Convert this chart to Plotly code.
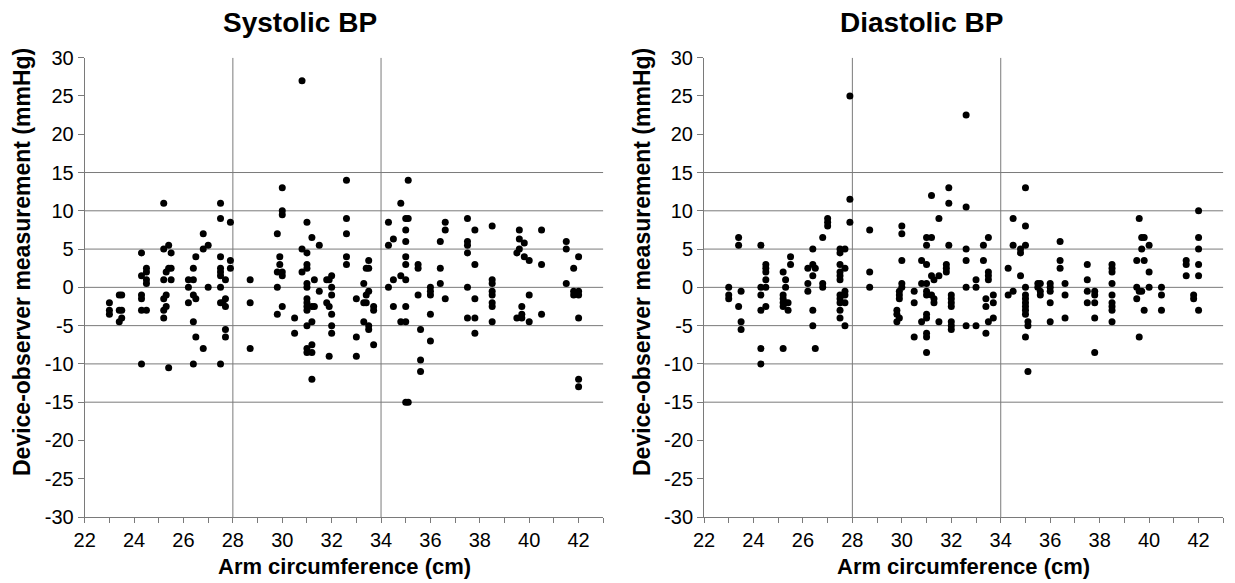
import plotly.graph_objects as go

# ---------------- data ----------------
sys_x = [23.0, 23.0, 23.0,
         23.4, 23.5, 23.4, 23.5, 23.5, 23.4,
         24.3, 24.3, 24.3, 24.3, 24.3, 24.3,
         24.5, 24.5, 24.5, 24.5, 24.5,
         25.2, 25.2, 25.3, 25.2, 25.3, 25.2, 25.3, 25.2, 25.2,
         25.4, 25.4, 25.4, 25.5, 25.5, 25.5,
         26.2, 26.2, 26.2, 26.4, 26.4, 26.4, 26.4, 26.4,
         26.5, 26.5, 26.5, 26.8, 26.8, 26.8, 27.0, 27.0,
         27.5, 27.5, 27.5, 27.5, 27.5, 27.5, 27.5, 27.5, 27.5,
         27.6, 27.7, 27.7, 27.7, 27.7, 27.7,
         27.9, 27.9, 27.9,
         28.7, 28.7, 28.7,
         29.8, 29.8, 29.8, 29.8, 29.9, 29.9,
         30.0, 30.0, 30.0, 30.0, 30.0, 30.0,
         30.5, 30.5,
         30.8, 30.8, 30.8,
         31.0, 31.0, 31.0, 31.0, 31.0, 31.0, 31.0, 31.0, 31.0, 31.0, 31.0, 31.0, 31.0,
         31.2, 31.2, 31.2, 31.2, 31.2, 31.2,
         31.3, 31.3, 31.5, 31.5,
         31.8, 31.8, 31.9, 31.9, 31.9,
         32.0, 32.0, 32.0, 32.0, 32.0, 32.0,
         32.6, 32.6, 32.6, 32.6, 32.6,
         33.0, 33.0, 33.0,
         33.3, 33.3, 33.3, 33.4, 33.4, 33.4, 33.5, 33.5, 33.5, 33.5, 33.5,
         33.7, 33.7, 33.7,
         34.3, 34.3, 34.3, 34.5, 34.5, 34.5,
         34.8, 34.8, 34.8,
         35.0, 35.1, 35.0, 35.0, 35.0, 35.0, 35.0, 35.0, 35.0, 35.1, 35.0, 35.1,
         35.5, 35.5, 35.5, 35.6, 35.6, 35.6,
         36.0, 36.0, 36.0, 36.0, 36.0,
         36.4, 36.4, 36.4, 36.6, 36.6, 36.6,
         37.5, 37.5, 37.5, 37.5, 37.5, 37.5,
         37.8, 37.8, 37.8, 37.8, 37.8,
         38.5, 38.5, 38.5, 38.5, 38.5, 38.5, 38.5, 38.5,
         39.6, 39.6, 39.6, 39.5, 39.8, 39.8, 40.0, 40.0, 39.7, 39.5, 39.7, 39.7, 40.0,
         40.5, 40.5, 40.5,
         41.5, 41.5, 41.5, 41.8, 41.8, 41.8, 42.0, 42.0, 42.0, 42.0, 42.0, 42.0]
sys_y = [-2, -3, -3.5,
         -1, -1, -3, -3, -4, -4.5,
         4.5, 1.5, -1, -1.5, -3, -10,
         2.5, 2, 1, 0.5, -3,
         11, 5, 2, 1, -1, -1.5, -2.5, -3, -4,
         5.5, 2.5, -10.5, 4.5, 2.5, 1,
         1, 0, -2, 2.5, 1, -1, -4.5, -10,
         4, -1.5, -6.5, 7, 5, -8, 5.5, 0,
         11, 9, 4, 2.5, 2, 1.5, 0, -2, -10,
         -2, 1, -1.5, -2.5, -5.5, -6.5,
         8.5, 3.5, 2.5,
         1, -2, -8,
         7, 2, 0, -3.5, 4, 3,
         13, 10, 9.5, 2, 1.5, -2.5,
         -4, -6,
         27, 5, 2,
         8.5, 4.5, 3, 2.5, 0.5, 0, -1.5, -2, -2.5, -3, -5, -8, -8.5,
         6.5, -2.5, -4.5, -7.5, -8.5, -12,
         1, -2.5, 5.5, -0.5,
         1, -2, 1, -2.5, -9,
         1.5, 0, -1, -3.5, -5, -6,
         14, 9, 7, 4, 3,
         -1.5, -6.5, -9,
         0.5, -2, -4.5, 2.5, -1, -2, 3.5, 2.5, -0.5, -5, -5.5,
         -2.5, -3, -7.5,
         8.5, 5.5, 0, 6.3, 1, -2.5,
         11, 1.5, -4.5,
         9, 9, 7.5, 6, 4, 3, 1, -2.5, -4.5, 14, -15, -15,
         3, 2.5, -1, -5.5, -9.5, -11,
         0, -0.5, -1, -3.5, -7,
         6, 2.5, 0.5, 8.5, 7.5, -1.5,
         9, 6, 5.5, 4.5, 0, -4,
         7.5, 3, -1.5, -4, -6,
         8, 1, 0.5, -0.5, -1, -2, -2.5, -4.5,
         7.5, 6.3, 5, 4.5, 5.8, 4, 3.5, -1, -2.5, -4, -3.5, -4, -4.5,
         7.5, 3, -3.5,
         6, 5, 0.5, 2.5, -0.5, -1, 4, -0.5, -1, -4, -12, -13]

dia_x = [23.0, 23.0, 23.0,
         23.4, 23.4, 23.5, 23.4, 23.5, 23.5,
         24.3, 24.3, 24.3, 24.3, 24.3, 24.3,
         24.5, 24.5, 24.5, 24.5, 24.5, 24.5,
         25.2, 25.3, 25.3, 25.2, 25.2, 25.2, 25.3, 25.2, 25.2, 25.4, 25.4, 25.5, 25.5,
         26.2, 26.2, 26.2, 26.4, 26.4, 26.4, 26.4, 26.4, 26.5, 26.5,
         26.8, 26.8, 26.8, 27.0, 27.0, 27.0,
         27.5, 27.5, 27.5, 27.5, 27.5, 27.5, 27.5, 27.5, 27.5, 27.5, 27.5,
         27.7, 27.7, 27.7, 27.7, 27.7, 27.7,
         27.9, 27.9, 27.9,
         28.7, 28.7, 28.7,
         30.0, 30.0, 30.0, 30.0, 30.0, 29.9, 29.9, 29.9, 29.8, 29.8, 29.9, 29.8,
         30.5, 30.5, 30.5,
         30.8, 30.8, 30.8,
         31.0, 31.0, 31.0, 31.0, 31.0, 31.0, 31.0, 31.0, 31.0, 31.0, 31.0,
         31.2, 31.2, 31.2, 31.2, 31.3, 31.3, 31.3, 31.5, 31.5, 31.5,
         31.9, 31.9, 31.9, 31.8, 31.8, 31.8,
         32.0, 32.0, 32.0, 32.0, 32.0, 32.0, 32.0,
         32.6, 32.6, 32.6, 32.6, 32.6, 32.6,
         33.0, 33.0, 33.0,
         33.3, 33.3, 33.4, 33.4, 33.4, 33.5, 33.5, 33.5, 33.5, 33.5, 33.7, 33.7, 33.7,
         34.3, 34.3, 34.5, 34.5, 34.5,
         34.8, 34.8, 34.8,
         35.0, 35.0, 35.0, 35.0, 35.0, 35.0, 35.0, 35.0, 35.0, 35.0, 35.0, 35.1, 35.1, 35.1,
         35.5, 35.5, 35.6, 35.6, 35.6,
         36.0, 36.0, 36.0, 36.0, 36.0,
         36.4, 36.4, 36.4, 36.6, 36.6, 36.6,
         37.5, 37.5, 37.5, 37.5, 37.8, 37.8, 37.8, 37.8, 37.8,
         38.5, 38.5, 38.5, 38.5, 38.5, 38.5, 38.5, 38.5, 38.5,
         39.6, 39.7, 39.8, 39.7, 40.0, 39.5, 39.8, 40.0, 39.5, 39.6, 39.7, 39.5, 40.0, 39.8, 39.6,
         40.5, 40.5, 40.5,
         41.5, 41.5, 41.5, 41.8, 41.8, 42.0, 42.0, 42.0, 42.0, 42.0, 42.0]
dia_y = [0, -1, -1.5,
         6.5, 5.5, -0.5, -2.5, -4.5, -5.5,
         5.5, 0, -1, -3, -8, -10,
         3, 2.5, 2, 1, 0, -2.5,
         2, 1, 0, -1, -1.5, -2, -2, -2.5, -8, -2, -3, 4, 3,
         2.5, 0.5, -0.5, 5, 3, 1.5, -3, -5, 2.5, -8,
         6.5, 0.5, 0, 9, 8.5, 8,
         5, 4.5, 3, 2, 1.5, 1, -1, -1.5, -2, -3, -4,
         5, 2.5, -0.5, -1, -2, -5,
         25, 11.5, 8.5,
         7.5, 2, 0,
         8, 7, 3.5, 0.5, 0, -0.5, -1, -1.5, -3, -3.5, -4, -4.5,
         -0.5, -2, -6.5,
         3.5, 0.5, -4.5,
         6.5, 5.5, 3, 0.5, -0.5, -1, -3.5, -4, -6, -6.5, -8.5,
         12, 6.5, 1.5, -1, 1, -1.5, -2, 9, 1.5, -4.5,
         13, 11, 5.5, 3, 2.5, 2,
         -1, -1.5, -2, -2.5, -4.5, -5, -5.5,
         22.5, 10.5, 5, 3.5, 0, -5,
         1, 0, -5,
         5.5, 3.5, -1.5, -2.5, -6, 6.5, 2, 1.5, 1, -4.5, -1, -2, -4,
         2.5, -1, 9, 5.5, -0.5,
         5, 4.5, 1.5,
         13, 8, 5.5, 0, -1, -1.5, -2, -2.5, -3, -3.5, -6.5, -4.5, -5, -11,
         0.5, 0, 0.5, -0.5, -1,
         0.5, 0, -0.5, -2, -4.5,
         6, 3.5, 2.5, 0.5, -1, -4,
         3, 1, -0.5, -2, -0.5, -1, -2, -4, -8.5,
         3, 2.5, 2, 0.5, -1, -2, -2.5, -3, -4.5,
         9, 6.5, 6.5, 5, 5.5, 3.5, 3.5, 2, 0, -0.5, -0.5, -1.5, 0, -3, -6.5,
         0, -1, -3,
         3.5, 3, 1.5, -1, -1.5, 10, 6.5, 5, 3, 1.5, -3]

panel_titles = ["Systolic BP", "Diastolic BP"]
x_title = "Arm circumference (cm)"
y_title = "Device-observer measurement (mmHg)"
x_ticks = list(range(22, 43, 2))
y_ticks = list(range(-30, 31, 5))
y_tick_labels = [str(v) for v in y_ticks]   # plain hyphen minus, as in the original
h_grid = [-15, -10, -5, 0, 5, 10, 15]
v_grid = [28, 34]

# ---------------- figure ----------------
OFF = 8                      # page body margin
W, H = 1235 - OFF, 583 - OFF
FONT = "Arial, 'Liberation Sans', sans-serif"
AX = "#7a7a7a"
GRID = "#7a7a7a"


def px(x):
    return (x - OFF) / W


def py(y):
    return 1 - (y - OFF) / H


fig = go.Figure()
fig.add_trace(go.Scatter(x=sys_x, y=sys_y, mode="markers", xaxis="x", yaxis="y",
                         marker=dict(color="black", size=7), showlegend=False))
fig.add_trace(go.Scatter(x=dia_x, y=dia_y, mode="markers", xaxis="x2", yaxis="y2",
                         marker=dict(color="black", size=7), showlegend=False))

left = (px(84.7), px(603.3))
right = (px(704.0), px(1223.3))
ydom = (py(517.0), py(57.7))


def xax(dom, anchor):
    return dict(domain=list(dom), anchor=anchor, range=[22, 43], showgrid=False,
                zeroline=False, showline=True, linecolor=AX, linewidth=1,
                tickmode="array", tickvals=x_ticks, ticks="outside", ticklen=5,
                tickcolor=AX, tickfont=dict(family=FONT, size=20, color="black"),
                minor=dict(dtick=1, tick0=22, ticks="outside", ticklen=5, tickcolor=AX),
                fixedrange=True)


def yax(anchor):
    return dict(domain=list(ydom), anchor=anchor, range=[-30, 30], showgrid=False,
                zeroline=False, showline=True, linecolor=AX, linewidth=1,
                tickmode="array", tickvals=y_ticks, ticktext=y_tick_labels,
                ticks="outside", ticklen=6,
                tickcolor=AX, tickfont=dict(family=FONT, size=20, color="black"),
                fixedrange=True)


shapes = []
for xr, yr in (("x", "y"), ("x2", "y2")):
    for g in h_grid:
        shapes.append(dict(type="line", xref=xr, yref=yr, x0=22, x1=43, y0=g, y1=g,
                           line=dict(color=GRID, width=1), layer="below"))
    for g in v_grid:
        shapes.append(dict(type="line", xref=xr, yref=yr, x0=g, x1=g, y0=-30, y1=30,
                           line=dict(color=GRID, width=1), layer="below"))

annotations = []
for cx, t in ((300, panel_titles[0]), (921, panel_titles[1])):
    annotations.append(dict(text=f"<b>{t}</b>", x=px(cx), y=py(23), xref="paper", yref="paper",
                            showarrow=False, xanchor="center", yanchor="middle",
                            font=dict(family=FONT, size=28, color="black")))
for cx in ((84.7 + 603.3) / 2, (704 + 1223.3) / 2):
    annotations.append(dict(text=f"<b>{x_title}</b>", x=px(cx), y=py(566), xref="paper", yref="paper",
                            showarrow=False, xanchor="center", yanchor="middle",
                            font=dict(family=FONT, size=22, color="black")))
for cx in (22, 642):
    annotations.append(dict(text=f"<b>{y_title}</b>", x=px(cx), y=py(262), xref="paper", yref="paper",
                            showarrow=False, xanchor="center", yanchor="middle", textangle=-90,
                            font=dict(family=FONT, size=23, color="black")))

fig.update_layout(
    width=W, height=H,
    margin=dict(l=0, r=0, t=0, b=0, autoexpand=False),
    paper_bgcolor="white", plot_bgcolor="white",
    xaxis=xax(left, "y"), yaxis=yax("x"),
    xaxis2=xax(right, "y2"), yaxis2=yax("x2"),
    shapes=shapes, annotations=annotations,
    font=dict(family=FONT),
)

fig.write_html("out.html")
